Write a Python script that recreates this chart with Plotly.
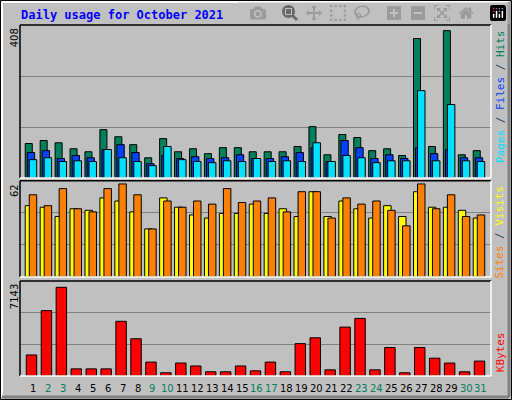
import plotly.graph_objects as go
from plotly.subplots import make_subplots

days = list(range(1, 32))
weekend = [2, 3, 9, 10, 16, 17, 23, 24, 30, 31]

hits = [92, 100, 94, 78, 70, 129, 110, 89, 54, 105, 70, 78, 65, 81, 81, 70,
        70, 70, 84, 137, 62, 116, 108, 73, 78, 60, 372, 84, 393, 62, 73]
files = [68, 73, 52, 60, 54, 76, 89, 68, 38, 60, 52, 57, 52, 54, 62, 52,
         52, 57, 68, 81, 44, 100, 81, 52, 62, 52, 81, 65, 76, 54, 54]
pages = [49, 54, 44, 46, 44, 76, 54, 44, 33, 84, 49, 44, 41, 46, 44, 52,
         44, 46, 44, 94, 44, 60, 54, 41, 46, 46, 233, 46, 196, 46, 44]
visits = [46, 45, 39, 44, 43, 51, 49, 42, 31, 51, 45, 40, 38, 41, 41, 47,
          41, 44, 39, 55, 39, 49, 44, 38, 46, 39, 55, 45, 45, 43, 38]
sites = [53, 46, 57, 44, 42, 57, 60, 53, 31, 49, 45, 49, 47, 57, 48, 49,
         51, 42, 55, 55, 38, 51, 47, 49, 43, 33, 60, 44, 53, 39, 40]
kbytes = [1580, 4910, 6660, 535, 535, 535, 4107, 2795, 1045, 243, 972, 753,
          316, 316, 753, 389, 1045, 316, 2430, 2868, 462, 3670, 4325, 462,
          2139, 243, 2139, 1337, 972, 316, 1118]
max_hits, max_sites, max_kb = 408, 62, 7143

BG = "#C0C0C0"
MONO = "DejaVu Sans Mono"

# pixel -> paper helpers (plot area is 20..491 x 25..376)
def px(x):
    return (x - 20) / 471

def py(y):
    return (376 - y) / 351

fig = make_subplots(rows=3, cols=1)

def bar(vals, color, offset, width, row):
    fig.add_trace(go.Bar(x=days, y=vals, offset=offset, width=width,
                         marker=dict(color=color, line=dict(color="black", width=1)),
                         showlegend=False), row=row, col=1)

bar(hits, "#00805C", -0.52, 0.47, 1)
bar(files, "#0040FF", -0.38, 0.49, 1)
bar(pages, "#00E0FF", -0.25, 0.5, 1)
bar(visits, "#FFFF00", -0.52, 0.5, 2)
bar(sites, "#FF8000", -0.25, 0.5, 2)
bar(kbytes, "#FF0000", -0.45, 0.7, 3)

domains = [[0.564, 1.0], [0.282, 0.556], [0.0, 0.271]]
maxes = [max_hits, max_sites, max_kb]
layout = dict(barmode="overlay", width=512, height=400, paper_bgcolor=BG,
              plot_bgcolor=BG, margin=dict(l=20, r=21, t=25, b=24),
              showlegend=False)
for i in range(3):
    n = "" if i == 0 else str(i + 1)
    layout["xaxis" + n] = dict(range=[0.13, 31.67], showticklabels=False,
                               showgrid=False, zeroline=False)
    layout["yaxis" + n] = dict(domain=domains[i], range=[0, maxes[i]],
                               dtick=maxes[i] / 3, showticklabels=False,
                               gridcolor="#808080", gridwidth=1, zeroline=False)
fig.update_layout(**layout)

shapes = []
for d in domains:
    shapes.append(dict(type="line", xref="paper", yref="paper", x0=0, x1=1,
                       y0=d[1], y1=d[1], line=dict(color="black", width=1.5)))
    shapes.append(dict(type="line", xref="paper", yref="paper", x0=0, x1=0,
                       y0=d[0], y1=d[1], line=dict(color="black", width=1.5)))
    shapes.append(dict(type="line", xref="paper", yref="paper", x0=0, x1=1,
                       y0=d[0], y1=d[0], line=dict(color="white", width=1.5)))
    shapes.append(dict(type="line", xref="paper", yref="paper", x0=1, x1=1,
                       y0=d[0], y1=d[1], line=dict(color="white", width=1.5)))
# outer bevel
shapes += [
    dict(type="rect", xref="paper", yref="paper", x0=px(0.5), x1=px(511.5),
         y0=py(399.5), y1=py(0.5), line=dict(color="black", width=1)),
    dict(type="line", xref="paper", yref="paper", x0=px(2), x1=px(509),
         y0=py(2), y1=py(2), line=dict(color="white", width=2)),
    dict(type="line", xref="paper", yref="paper", x0=px(2), x1=px(2),
         y0=py(2), y1=py(397), line=dict(color="white", width=2)),
    dict(type="line", xref="paper", yref="paper", x0=px(2), x1=px(509),
         y0=py(397), y1=py(397), line=dict(color="#808080", width=3)),
    dict(type="line", xref="paper", yref="paper", x0=px(509), x1=px(509),
         y0=py(2), y1=py(397), line=dict(color="#808080", width=3)),
]
fig.update_layout(shapes=shapes)

ann = [dict(text="<b>Daily usage for October 2021</b>", x=px(19), y=py(15),
            xref="paper", yref="paper", xanchor="left", yanchor="middle",
            showarrow=False, font=dict(family=MONO, size=12, color="#0000FF"))]
for d, lab in zip(domains, [str(max_hits), str(max_sites), str(max_kb)]):
    ann.append(dict(text=lab, x=px(14), y=d[1] - 0.005, xref="paper", yref="paper",
                    xanchor="center", yanchor="top", textangle=-90, showarrow=False,
                    font=dict(family="DejaVu Sans", size=10, color="black")))
for day in days:
    ann.append(dict(text=str(day), x=day, y=py(388), xref="x3", yref="paper",
                    xanchor="center", yanchor="middle", showarrow=False,
                    font=dict(family="DejaVu Sans", size=10,
                              color="#00805C" if day in weekend else "black")))
right = [
    ('<span style="color:#00E0FF">Pages</span> / <span style="color:#0040FF">Files</span>'
     ' / <span style="color:#00805C">Hits</span>', domains[0][1] - 0.01),
    ('<span style="color:#FF8000">Sites</span> / <span style="color:#FFFF00">Visits</span>',
     domains[1][1] - 0.01),
    ('<span style="color:#FF0000">KBytes</span>', domains[2][0] + 0.005),
]
for i, (t, yy) in enumerate(right):
    ann.append(dict(text=t, x=px(500), y=yy, xref="paper", yref="paper",
                    xanchor="center", yanchor="bottom" if i == 2 else "top",
                    textangle=-90, showarrow=False,
                    font=dict(family=MONO, size=11)))
fig.update_layout(annotations=ann)

fig.write_html("out.html", post_script="document.body.style.margin='0';")
